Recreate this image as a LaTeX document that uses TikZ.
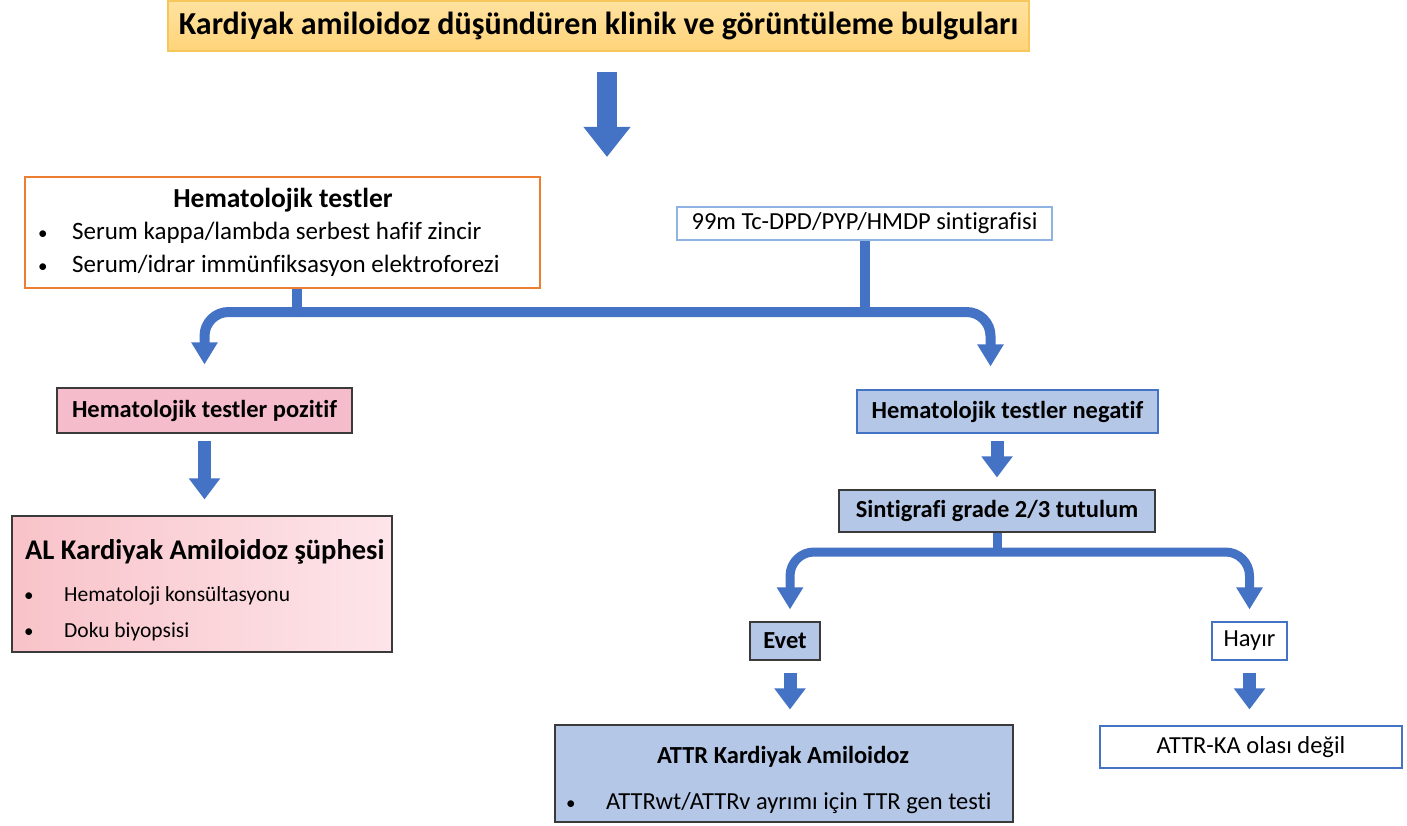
\documentclass[tikz,border=0pt]{standalone}
\usepackage{fontspec}
\setmainfont{Carlito}[Ligatures=CommonOff]
\usepackage{tikz}
\usetikzlibrary{positioning,arrows.meta,calc}
\definecolor{flowblue}{HTML}{4472C4}
\definecolor{paleblue}{HTML}{B4C7E7}
\definecolor{edge}{HTML}{3A3A3A}
\definecolor{orangeedge}{HTML}{ED7D31}
\definecolor{skyedge}{HTML}{8FB4E3}
\definecolor{goldA}{HTML}{FFE2A0}
\definecolor{goldB}{HTML}{FFD47A}
\definecolor{goldedge}{HTML}{F6C75A}
\definecolor{rosefill}{HTML}{F5BCCB}
\definecolor{pinkA}{HTML}{F8C3C9}
\definecolor{pinkB}{HTML}{FDE5EA}
\newcommand{\bul}[1]{\makebox[#1][l]{\fontsize{19}{19}\selectfont\textbullet}}

\begin{document}
\begin{tikzpicture}[x=1pt, y=1pt,
  bx/.style={draw=edge, line width=1.1pt, inner sep=0pt, font=\fontsize{24.5}{28}\selectfont},
  bxb/.style={bx, fill=paleblue, font=\fontsize{24.5}{28}\selectfont\bfseries},
  lbl/.style={inner sep=0pt, anchor=west, font=\fontsize{24.5}{28}\selectfont},
  flow/.style={draw=flowblue, line width=10pt},
  farr/.style={flow, rounded corners=24pt, -{Triangle[width=25pt,length=22pt]}},
  sarr/.style={draw=flowblue, line width=13pt, -{Triangle[width=30pt,length=21pt]}}]
\useasboundingbox (0,0) rectangle (1407,-826);

% boxes
\node[bx, draw=goldedge, top color=goldA, bottom color=goldB, minimum width=861pt, minimum height=50pt,
      font=\fontsize{32}{36}\selectfont\bfseries] (title) at (598.5,-26) {Kardiyak amiloidoz düşündüren klinik ve görüntüleme bulguları};
\node[bx, draw=orangeedge, line width=1.5pt, minimum width=515pt, minimum height=111pt] (hem) at (282.5,-232.5) {};
\node[bx, draw=skyedge, minimum width=375pt, minimum height=33pt] (tc) at (864.5,-223.5) {99m Tc-DPD/PYP/HMDP sintigrafisi};
\node[bx, fill=rosefill, minimum width=295pt, minimum height=45pt, font=\fontsize{24.5}{28}\selectfont\bfseries] (pos) at (204.5,-410.5) {Hematolojik testler pozitif};
\node[bx, left color=pinkA, right color=pinkB, minimum width=380pt, minimum height=136pt] (al) at (202,-584) {};
\node[bxb, draw=flowblue, minimum width=301pt, minimum height=43pt] (neg) at (1007.5,-411.5) {Hematolojik testler negatif};
\node[bxb, minimum width=316pt, minimum height=42pt] (sint) at (997,-511) {Sintigrafi grade 2/3 tutulum};
\node[bxb, minimum width=70pt, minimum height=38pt] (evet) at (785,-641) {Evet};
\node[bx, draw=flowblue, minimum width=75pt, minimum height=38pt] (hayir) at (1249.5,-641) {Hayır};
\node[bxb, minimum width=458pt, minimum height=97pt] (attr) at (784,-773.5) {};
\node[bx, draw=flowblue, minimum width=302pt, minimum height=42pt] (ka) at (1251,-747) {ATTR-KA olası değil};

% texts inside the larger boxes
\node[lbl, anchor=center, font=\fontsize{27.5}{31}\selectfont\bfseries] (hemt) at (283,-200) {Hematolojik testler};
\node[lbl, font=\fontsize{25}{29}\selectfont] (hem1) at (38,-233) {\bul{34pt}Serum kappa/lambda serbest hafif zincir};
\node[lbl, font=\fontsize{25}{29}\selectfont] (hem2) at (38,-266) {\bul{34pt}Serum/idrar immünfiksasyon elektroforezi};
\node[lbl, font=\fontsize{28.5}{32}\selectfont\bfseries] (alt) at (25,-552) {AL Kardiyak Amiloidoz şüphesi};
\node[lbl, font=\fontsize{21.5}{25}\selectfont] (al1) at (24,-596) {\bul{40pt}Hematoloji konsültasyonu};
\node[lbl, font=\fontsize{21.5}{25}\selectfont] (al2) at (24,-632) {\bul{40pt}Doku biyopsisi};
\node[lbl, anchor=center, font=\fontsize{24.5}{28}\selectfont\bfseries] (attrt) at (783,-757) {ATTR Kardiyak Amiloidoz};
\node[lbl] (attr1) at (566,-803) {\bul{40pt}ATTRwt/ATTRv ayrımı için TTR gen testi};

% big arrow
\coordinate (split) at (607,-157);
\draw[draw=flowblue, line width=20pt, -{Triangle[width=45pt,length=30pt]}, shorten <=20pt] (split |- title.south) -- (split);

% first fork
\coordinate (fk1) at (297,-312);
\draw[flow] (fk1 |- hem.south) -- (fk1);
\draw[flow] (tc.south) -- (tc.south |- fk1);
\draw[farr, shorten >=23pt] (fk1) -| (pos.north);
\draw[farr, shorten >=23pt] (fk1) -| ([xshift=-17pt]neg.north);

% second fork
\coordinate (fk2) at (998,-552);
\draw[flow, line width=9pt] (sint.south) -- (sint.south |- fk2);
\draw[farr, line width=9pt, shorten >=12pt] (fk2) -| ([xshift=5pt]evet.north);
\draw[farr, line width=9pt, shorten >=12pt] (fk2) -| (hayir.north);

% straight arrows
\draw[sarr, shorten <=7pt, shorten >=16pt] (pos.south) -- (pos.south |- al.north);
\draw[sarr, shorten <=7pt, shorten >=12pt] (sint.north |- neg.south) -- (sint.north);
\draw[sarr, shorten <=12pt, shorten >=15pt] ([xshift=5pt]evet.south) -- ([xshift=5pt]evet.south |- attr.north);
\draw[sarr, shorten <=12pt, shorten >=16pt] (hayir.south) -- (hayir.south |- ka.north);
\end{tikzpicture}
\end{document}
